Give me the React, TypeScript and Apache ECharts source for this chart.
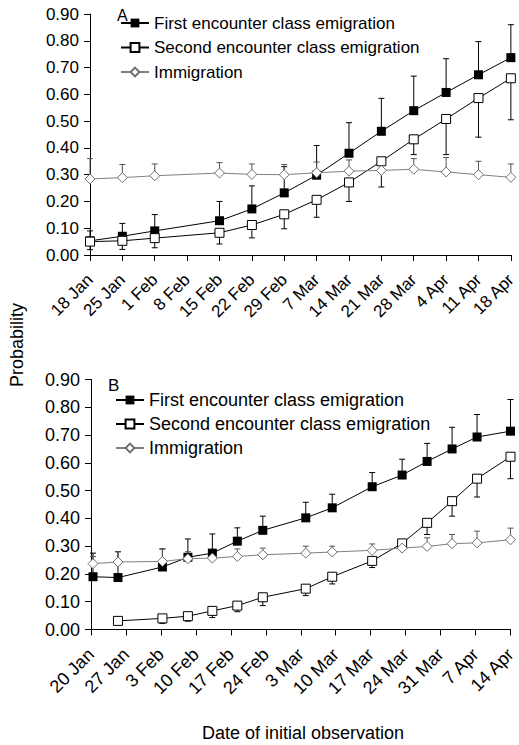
import React, { useEffect, useRef } from "react";
import * as echarts from "echarts";

// Panel A: weekly dates, days counted from 18 Jan
const labelsA = ["18 Jan", "25 Jan", "1 Feb", "8 Feb", "15 Feb", "22 Feb", "29 Feb", "7 Mar", "14 Mar", "21 Mar", "28 Mar", "4 Apr", "11 Apr", "18 Apr"];
const daysA = [0, 7, 14, 28, 35, 42, 49, 56, 63, 70, 77, 84, 91];
const firstA = [0.053, 0.07, 0.09, 0.128, 0.172, 0.232, 0.298, 0.38, 0.462, 0.539, 0.607, 0.673, 0.737];
const firstUpperA = [0.09, 0.118, 0.151, 0.2, 0.258, 0.33, 0.409, 0.494, 0.585, 0.668, 0.733, 0.797, 0.86];
const secondA = [0.05, 0.053, 0.063, 0.083, 0.112, 0.152, 0.206, 0.271, 0.35, 0.432, 0.508, 0.586, 0.66];
const secondLowerA = [0.02, 0.021, 0.027, 0.041, 0.064, 0.098, 0.141, 0.2, 0.254, 0.375, 0.375, 0.44, 0.505];
const immA = [0.284, 0.289, 0.296, 0.306, 0.301, 0.3, 0.307, 0.313, 0.316, 0.32, 0.31, 0.3, 0.29];
const immUpperA = [0.36, 0.338, 0.34, 0.345, 0.34, 0.338, 0.347, 0.355, 0.35, 0.36, 0.364, 0.35, 0.34];

// Panel B: days counted from 20 Jan
const labelsB = ["20 Jan", "27 Jan", "3 Feb", "10 Feb", "17 Feb", "24 Feb", "3 Mar", "10 Mar", "17 Mar", "24 Mar", "31 Mar", "7 Apr", "14 Apr"];
const daysB = [0.4, 5.4, 14.3, 19.4, 24.3, 29.3, 34.4, 43, 48.3, 56.3, 62.3, 67.3, 72.3, 77.3, 84];
const firstB = [0.19, 0.187, 0.225, 0.26, 0.275, 0.318, 0.357, 0.402, 0.438, 0.514, 0.556, 0.605, 0.65, 0.693, 0.714];
const firstUpperB = [0.275, 0.28, 0.29, 0.326, 0.344, 0.366, 0.408, 0.458, 0.487, 0.565, 0.613, 0.67, 0.728, 0.774, 0.828];
const secondB = [null, 0.031, 0.04, 0.048, 0.067, 0.086, 0.116, 0.147, 0.19, 0.247, 0.31, 0.384, 0.462, 0.543, 0.622];
const secondLowerB = [null, null, 0.022, 0.03, 0.043, 0.064, 0.086, 0.122, 0.164, 0.223, 0.29, 0.342, 0.408, 0.477, 0.543];
const immB = [0.237, 0.243, 0.245, 0.255, 0.257, 0.263, 0.269, 0.275, 0.279, 0.285, 0.293, 0.299, 0.309, 0.312, 0.323];
const immUpperB = [0.263, 0.28, 0.29, 0.28, 0.285, 0.29, 0.293, 0.3, 0.3, 0.308, 0.32, 0.33, 0.342, 0.354, 0.365];

const NAME_FIRST = "First encounter class emigration";
const NAME_SECOND = "Second encounter class emigration";
const NAME_IMM = "Immigration";

const FONT = "'Liberation Sans', Arial, Helvetica, sans-serif";
const GREY = "#808080";

type Num = number | null;

const pairs = (xs: number[], ys: Num[]) => xs.map((x, i) => (ys[i] == null ? [x, null] : [x, ys[i]]));
const bars = (xs: number[], from: Num[], to: Num[]) =>
  xs
    .map((x, i) => (from[i] == null || to[i] == null ? null : [x, from[i], to[i]]))
    .filter((d) => d !== null) as number[][];

// Vertical error bar from the mean to the bound, with a short cap at the bound
function errorSeries(data: number[][], axis: number, color: string) {
  return {
    type: "custom",
    xAxisIndex: axis,
    yAxisIndex: axis,
    z: 1,
    silent: true,
    encode: { x: 0, y: [1, 2] },
    data,
    renderItem: (_params: any, api: any) => {
      const x = api.value(0);
      const a = api.coord([x, api.value(1)]);
      const b = api.coord([x, api.value(2)]);
      const cap = 3;
      const style = { stroke: color, lineWidth: 1 };
      return {
        type: "group",
        children: [
          { type: "line", shape: { x1: a[0], y1: a[1], x2: b[0], y2: b[1] }, style },
          { type: "line", shape: { x1: b[0] - cap, y1: b[1], x2: b[0] + cap, y2: b[1] }, style },
        ],
      };
    },
  };
}

function lineSeries(name: string, data: any[], axis: number, kind: "first" | "second" | "imm", size: number) {
  const base: any = {
    name,
    type: "line",
    xAxisIndex: axis,
    yAxisIndex: axis,
    data,
    z: 3,
    connectNulls: false,
  };
  if (kind === "first") {
    base.symbol = "rect";
    base.symbolSize = size;
    base.lineStyle = { color: "#000", width: 1 };
    base.itemStyle = { color: "#000", borderColor: "#000", borderWidth: 0 };
  } else if (kind === "second") {
    base.symbol = "rect";
    base.symbolSize = size;
    base.lineStyle = { color: "#000", width: 1 };
    base.itemStyle = { color: "#fff", borderColor: "#000", borderWidth: 1 };
  } else {
    base.symbol = "diamond";
    base.symbolSize = size + 1;
    base.lineStyle = { color: GREY, width: 1 };
    base.itemStyle = { color: "#fff", borderColor: "#707070", borderWidth: 1 };
  }
  return base;
}

function xAxis(grid: number, max: number, labels: string[], fontSize: number) {
  return {
    type: "value",
    gridIndex: grid,
    min: 0,
    max,
    interval: 7,
    axisLine: { show: true, lineStyle: { color: "#000", width: 1 } },
    axisTick: { show: true, length: 6, lineStyle: { color: "#000" } },
    splitLine: { show: false },
    axisLabel: {
      rotate: 45,
      margin: 22,
      fontSize,
      color: "#000",
      fontFamily: FONT,
      showMinLabel: true,
      showMaxLabel: true,
      formatter: (v: number) => labels[Math.round(v / 7)] ?? "",
    },
  };
}

function yAxis(grid: number, fontSize: number) {
  return {
    type: "value",
    gridIndex: grid,
    min: 0,
    max: 0.9,
    interval: 0.1,
    axisLine: { show: true, lineStyle: { color: "#000", width: 1 } },
    axisTick: { show: true, length: 6, lineStyle: { color: "#000" } },
    splitLine: { show: false },
    axisLabel: {
      margin: 11,
      fontSize,
      color: "#000",
      fontFamily: FONT,
      formatter: (v: number) => v.toFixed(2),
    },
  };
}

function legend(left: number, top: number, fontSize: number, gap: number) {
  return {
    orient: "vertical",
    left,
    top,
    padding: 0,
    itemWidth: 28,
    itemHeight: 11,
    itemGap: gap,
    selectedMode: false,
    data: [NAME_FIRST, NAME_SECOND, NAME_IMM],
    textStyle: { fontSize, lineHeight: 20, color: "#000", fontFamily: FONT },
  };
}

export default function App() {
  const ref = useRef<HTMLDivElement>(null);

  useEffect(() => {
    if (!ref.current) return;
    const chart = echarts.init(ref.current, undefined, { renderer: "svg" });

    const option: any = {
      animation: false,
      backgroundColor: "#fff",
      textStyle: { fontFamily: FONT },
      grid: [
        { left: 90, top: 14, width: 423, height: 241 },
        { left: 91, top: 379.5, width: 420, height: 250 },
      ],
      xAxis: [xAxis(0, 91, labelsA, 17), xAxis(1, 84, labelsB, 18)],
      yAxis: [yAxis(0, 17), yAxis(1, 18)],
      legend: [legend(120, 13, 17, 4.5), legend(115, 390, 18, 4)],
      graphic: [
        { type: "text", left: 117, top: 7, style: { text: "A", fontSize: 16, fill: "#000", fontFamily: FONT } },
        { type: "text", left: 108, top: 377, style: { text: "B", fontSize: 17, fill: "#000", fontFamily: FONT } },
        {
          type: "text",
          x: 17,
          y: 345,
          rotation: Math.PI / 2,
          style: { text: "Probability", fontSize: 18, fill: "#000", fontFamily: FONT, align: "center", verticalAlign: "middle" },
        },
        {
          type: "text",
          x: 303,
          y: 733,
          style: { text: "Date of initial observation", fontSize: 18, fill: "#000", fontFamily: FONT, align: "center", verticalAlign: "middle" },
        },
      ],
      series: [
        errorSeries(bars(daysA, firstA, firstUpperA), 0, "#000"),
        errorSeries(bars(daysA, secondA, secondLowerA), 0, "#000"),
        errorSeries(bars(daysA, immA, immUpperA), 0, "#555"),
        lineSeries(NAME_FIRST, pairs(daysA, firstA), 0, "first", 9),
        lineSeries(NAME_SECOND, pairs(daysA, secondA), 0, "second", 9),
        lineSeries(NAME_IMM, pairs(daysA, immA), 0, "imm", 9),

        errorSeries(bars(daysB, firstB, firstUpperB), 1, "#000"),
        errorSeries(bars(daysB, secondB, secondLowerB), 1, "#000"),
        errorSeries(bars(daysB, immB, immUpperB), 1, "#555"),
        lineSeries(NAME_FIRST, pairs(daysB, firstB), 1, "first", 9),
        lineSeries(NAME_SECOND, pairs(daysB, secondB), 1, "second", 9),
        lineSeries(NAME_IMM, pairs(daysB, immB), 1, "imm", 9),
      ],
    };

    chart.setOption(option);
    return () => chart.dispose();
  }, []);

  return (
    <div
      ref={ref}
      style={{ position: "fixed", left: 0, top: 0, width: 519, height: 745, background: "#fff" }}
    />
  );
}
